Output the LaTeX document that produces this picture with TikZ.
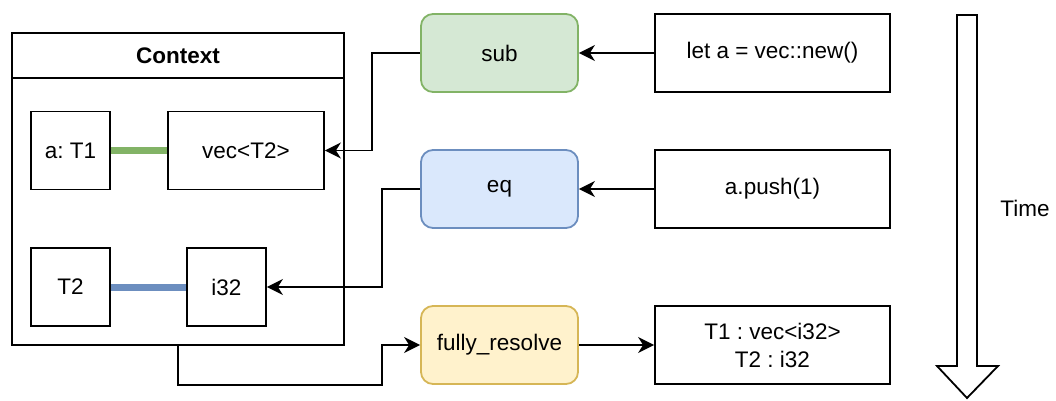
\documentclass[tikz,border=0pt]{standalone}
\usepackage{fontspec}
\setmainfont{Liberation Sans}
\frenchspacing
\usetikzlibrary{arrows.meta}
\definecolor{subfill}{HTML}{D5E8D4}
\definecolor{subline}{HTML}{82B366}
\definecolor{eqfill}{HTML}{DAE8FC}
\definecolor{eqline}{HTML}{6C8EBF}
\definecolor{resfill}{HTML}{FFF2CC}
\definecolor{resline}{HTML}{D6B656}
\begin{document}
\begin{tikzpicture}[x=1pt, y=-1pt, line width=1.8pt,
    every node/.style={inner sep=0pt, font=\fontsize{22.5}{28}\selectfont},
    box/.style={draw, minimum width=#1, minimum height=78pt},
    box/.default=79pt,
    op/.style={draw=#1line, fill=#1fill, rounded corners=12pt, minimum width=157pt, minimum height=78pt},
    arr/.style={-{Stealth[length=16pt, width=16pt, inset=5pt]}},
    link/.style={draw=#1, line width=7pt}]
    \useasboundingbox (0,0) rectangle (1056,401);
    % context
    \node[box=332pt, minimum height=312pt] (ctx) at (178,189) {};
    \node[box=332pt, minimum height=45pt, font=\fontsize{22.5}{28}\selectfont\bfseries] (ctxtitle) at (178,55.5) {Context};
    \node[box] (aT1) at (70.5,150.5) {a: T1};
    \node[box=156pt] (vec) at (246,150.5) {vec<T2>};
    \node[box] (T2) at (70.5,287) {T2};
    \node[box] (i32) at (226.5,287) {i32};
    \draw[link=subline] (aT1.east) -- (vec.west);
    \draw[link=eqline] (T2.east) -- (i32.west);
    % operations
    \node[op=sub] (sub) at (499.5,53) {sub};
    \node[op=eq] (eq) at (499.5,189) {eq};
    \node[op=res] (resolve) at (499.5,345) {fully\_resolve};
    % statements
    \node[box=235pt] (let) at (772.5,53) {let a = vec::new()};
    \node[box=235pt] (push) at (772.5,189) {a.push(1)};
    \node[box=235pt, align=center] (result) at (772.5,345) {T1 : vec<i32>\\T2 : i32};
    % connectors
    \draw[arr] (let.west) -- (sub.east);
    \draw[arr] (push.west) -- (eq.east);
    \draw[arr] (sub.west) -- ++(-48,0) |- (vec.east);
    \draw[arr] (eq.west) -- ++(-38,0) |- (i32.east);
    \draw[arr] (ctx.south) -- ++(0,39) -| ([xshift=-38pt]resolve.west) -- (resolve.west);
    \draw[arr] (resolve.east) -- (result.west);
    % time
    \draw (957,15) -- (977,15) -- (977,366) -- (998,366) -- (967,398) -- (937,366) -- (957,366) -- cycle;
    \node (time) at (1025,208) {Time};
\end{tikzpicture}
\end{document}
